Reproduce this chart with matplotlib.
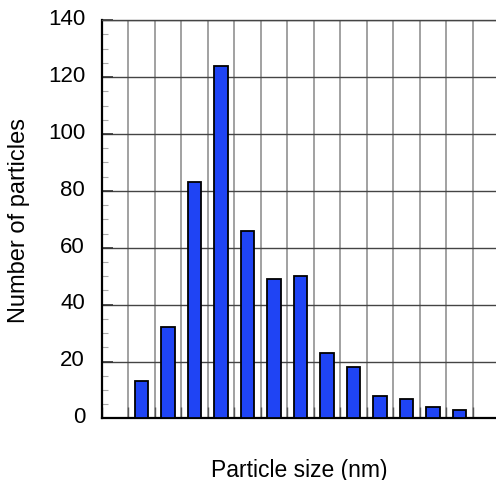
import numpy as np
import matplotlib
matplotlib.use("Agg")
import matplotlib.pyplot as plt
import matplotlib.transforms as mtransforms
from matplotlib.ticker import MultipleLocator

# Histogram values
bin_index = [1, 2, 3, 4, 5, 6, 7, 8, 9, 10, 11, 12, 13]
counts = [13, 32, 83, 124, 66, 49, 50, 23, 18, 8, 7, 4, 3]
y_ticks = [0, 20, 40, 60, 80, 100, 120, 140]

fig = plt.figure(figsize=(4.96, 4.81), dpi=100)
ax = fig.add_axes([0.205, 0.128, 0.795, 0.828])

x = np.array(bin_index) + 0.5
ax.bar(x, counts, width=0.5, color='#1f44f4', edgecolor='black', linewidth=1.3, zorder=3)

ax.set_xlim(0, 14.88)
ax.set_ylim(0, 140)

ax.set_yticks(y_ticks)
ax.yaxis.set_minor_locator(MultipleLocator(5))
ax.xaxis.set_major_locator(MultipleLocator(1))
ax.set_xticklabels([])

ax.grid(True, which='major', axis='y', color='#444444', linewidth=1.0, zorder=1)
ax.grid(True, which='major', axis='x', color='#888888', linewidth=1.1, zorder=1)

ax.tick_params(axis='y', which='major', direction='in', length=8, width=1.2,
               color='#333333', pad=12, labelsize=16)
ax.tick_params(axis='y', which='minor', direction='in', length=4, width=0.8,
               color='#aaaaaa')
ax.tick_params(axis='x', which='major', direction='in', length=8, width=1.0,
               color='#555555')
shift = mtransforms.ScaledTranslation(0, 3 / 72, fig.dpi_scale_trans)
for lbl in ax.get_yticklabels():
    lbl.set_family('Liberation Sans')
    lbl.set_transform(lbl.get_transform() + shift)

ax.spines['right'].set_visible(False)
ax.spines['top'].set_color('#444444')
ax.spines['top'].set_linewidth(1.0)
ax.spines['left'].set_linewidth(1.6)
ax.spines['bottom'].set_linewidth(1.6)

ax.set_ylabel('Number of particles', fontsize=17, family='Liberation Sans', labelpad=13)
ax.set_xlabel('Particle size (nm)', fontsize=16.5, family='Liberation Sans', labelpad=25)

fig.savefig('out.png', dpi=100)
